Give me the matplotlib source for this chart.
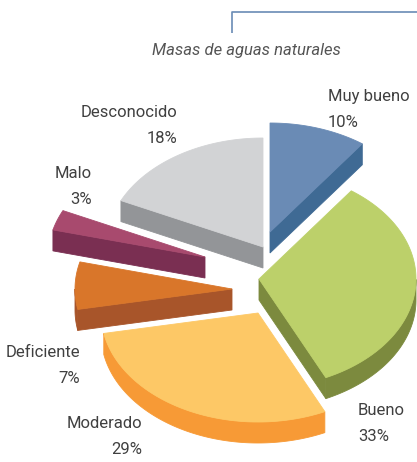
import numpy as np
import matplotlib
matplotlib.use('Agg')
import matplotlib.pyplot as plt

# ---------------- data ----------------
categories = ['Muy bueno', 'Bueno', 'Moderado', 'Deficiente', 'Malo', 'Desconocido']
values = [10, 33, 29, 7, 3, 18]
pct_labels = ['10%', '33%', '29%', '7%', '3%', '18%']
title = 'Masas de aguas naturales'

# ---------------- style ----------------
top_colors = ['#6A8BB5', '#BCD06A', '#FDC866', '#D9762A', '#A84A6E', '#D2D3D5']
side_colors = ['#3F6A94', '#7C8A3E', '#F79A36', '#A8552A', '#7A2F52', '#939598']
# explode offsets (pixels) per slice
explode_dx = [15, 4, 3, -23, -50, 8]
explode_dy = [-53, -6, 28, 4, -28, -38]
# label anchors (x, baseline y of first line) and alignment
label_pos = [(328, 101, 'left'), (358, 415, 'left'), (142, 428, 'right'),
             (80, 357, 'right'), (92, 178, 'right'), (177, 117, 'right')]
line_gap = 26

cx, cy = 255, 285
rx, ry = 157, 109
depth = 21
text_color = '#404040'
fam = ['Roboto', 'DejaVu Sans']

fig = plt.figure(figsize=(4.17, 4.62), dpi=100)
ax = fig.add_axes([0, 0, 1, 1])
ax.set_xlim(0, 417)
ax.set_ylim(462, 0)
ax.axis('off')

total = float(sum(values))
cum = np.concatenate([[0], np.cumsum(values)])
theta_start = 90 - 360 * cum[:-1] / total   # larger angle (ccw)
theta_end = 90 - 360 * cum[1:] / total      # smaller angle


def pt(x0, y0, th):
    t = np.radians(th)
    return x0 + rx * np.cos(t), y0 - ry * np.sin(t)


slices = []
for i in range(len(values)):
    a, b = theta_end[i], theta_start[i]
    x0, y0 = cx + explode_dx[i], cy + explode_dy[i]
    slices.append((y0, i, a, b, x0))

for y0, i, a, b, x0 in sorted(slices):
    sc, tc = side_colors[i], top_colors[i]
    # radial walls
    for th, normal in ((b, b + 90), (a, a - 90)):
        if np.sin(np.radians(normal)) < -1e-6:
            px, py = pt(x0, y0, th)
            ax.fill([x0, px, px, x0], [y0, py, py + depth, y0 + depth],
                    color=sc, lw=0.6, ec=sc, zorder=2)
    # outer curved wall
    ths = np.linspace(a, b, 400)
    vis = np.sin(np.radians(ths)) < 0
    if vis.any():
        idx = np.where(vis)[0]
        splits = np.split(idx, np.where(np.diff(idx) != 1)[0] + 1)
        for seg in splits:
            tt = ths[seg]
            px, py = pt(x0, y0, tt)
            xs = np.concatenate([px, px[::-1]])
            ys = np.concatenate([py, (py + depth)[::-1]])
            ax.fill(xs, ys, color=sc, lw=0.6, ec=sc, zorder=2)
    # top face
    tt = np.linspace(a, b, 300)
    px, py = pt(x0, y0, tt)
    ax.fill(np.concatenate([[x0], px]), np.concatenate([[y0], py]),
            color=tc, lw=0.6, ec=tc, zorder=3)

# labels
for i, (lx, ly, ha) in enumerate(label_pos):
    ax.text(lx, ly, categories[i], ha=ha, va='baseline', fontsize=12,
            color=text_color, family=fam, zorder=5)
    ax.text(lx, ly + line_gap, pct_labels[i], ha=ha, va='baseline', fontsize=12,
            color=text_color, family=fam, zorder=5)

# title and bracket line
ax.text(246, 55, title, ha='center', va='baseline', fontsize=12, style='italic',
        color='#555555', family=fam)
ax.plot([232, 232, 417], [33, 12, 12], color='#6A8BB5', lw=1.2, solid_capstyle='butt')

fig.savefig('out.png', dpi=100)
